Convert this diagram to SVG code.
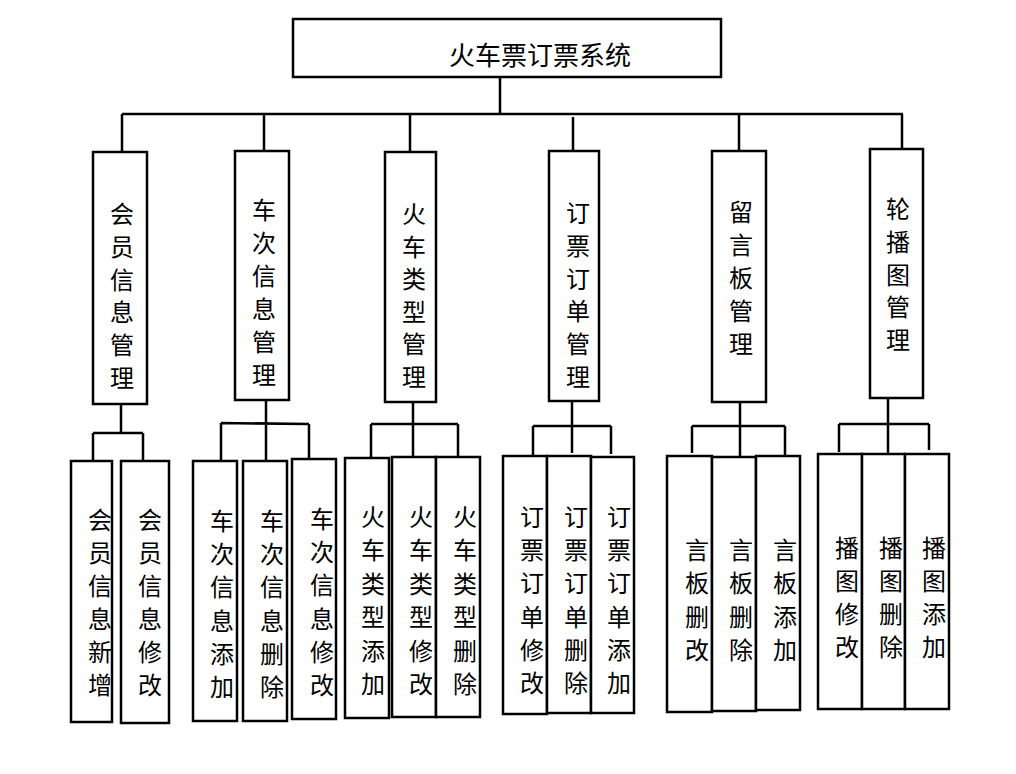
<svg xmlns="http://www.w3.org/2000/svg" width="1016" height="774" viewBox="0 0 1016 774">
<style>
.b{fill:#fff;stroke:#000;stroke-width:2.5}
.c{fill:none;stroke:#000;stroke-width:2.5}
text{font-family:"Noto Sans CJK SC","Noto Sans",sans-serif;font-size:24px;fill:#000;text-anchor:middle;dominant-baseline:central}
.t{font-size:26px}
</style>
<rect width="1016" height="774" fill="#fff"/>
<g id="connectors">
<path class="c" d="M500,78V114M122,114H903M122,114V152M264,114V151M410,114V152M573,117V151M739,114V151M902,114V149"/>
<path class="c" d="M121,404V433M93,433H143M93,433V461M143,433V461"/>
<path class="c" d="M266,400V461M221,423L309,424M221,423V461M309,424V459"/>
<path class="c" d="M413,402V457M371,424H458M371,424V457M458,424V457"/>
<path class="c" d="M572,401V453M533,426H611M533,426V455M611,426V454"/>
<path class="c" d="M740,402V456M692,426H785M692,426V453M785,426V455"/>
<path class="c" d="M888,398V453M839,424H929M839,424V452M929,424V450"/>
</g>
<g id="root"><rect class="b" x="293" y="19" width="428" height="58"/><text class="t" x="540" y="53">火车票订票系统</text></g>
<g id="n1"><rect class="b" x="93" y="152" width="54" height="252"/><text x="122"><tspan x="122" y="212">会</tspan><tspan x="122" y="245">员</tspan><tspan x="122" y="278">信</tspan><tspan x="122" y="310">息</tspan><tspan x="122" y="343">管</tspan><tspan x="122" y="376">理</tspan></text></g>
<g id="n2"><rect class="b" x="235" y="151" width="54" height="249"/><text x="264"><tspan x="264" y="208">车</tspan><tspan x="264" y="241">次</tspan><tspan x="264" y="274">信</tspan><tspan x="264" y="307">息</tspan><tspan x="264" y="340">管</tspan><tspan x="264" y="373">理</tspan></text></g>
<g id="n3"><rect class="b" x="385" y="152" width="51" height="250"/><text x="414"><tspan x="414" y="212">火</tspan><tspan x="414" y="245">车</tspan><tspan x="414" y="277">类</tspan><tspan x="414" y="310">型</tspan><tspan x="414" y="342">管</tspan><tspan x="414" y="375">理</tspan></text></g>
<g id="n4"><rect class="b" x="549" y="151" width="50" height="250"/><text x="578"><tspan x="578" y="211">订</tspan><tspan x="578" y="244">票</tspan><tspan x="578" y="277">订</tspan><tspan x="578" y="309">单</tspan><tspan x="578" y="342">管</tspan><tspan x="578" y="375">理</tspan></text></g>
<g id="n5"><rect class="b" x="712" y="151" width="54" height="251"/><text x="741"><tspan x="741" y="210">留</tspan><tspan x="741" y="243">言</tspan><tspan x="741" y="276">板</tspan><tspan x="741" y="309">管</tspan><tspan x="741" y="342">理</tspan></text></g>
<g id="n6"><rect class="b" x="870" y="149" width="53" height="249"/><text x="898"><tspan x="898" y="207">轮</tspan><tspan x="898" y="240">播</tspan><tspan x="898" y="273">图</tspan><tspan x="898" y="305">管</tspan><tspan x="898" y="338">理</tspan></text></g>

<g id="n1a"><rect class="b" x="71" y="461" width="41" height="261"/><text><tspan x="100" y="518">会</tspan><tspan x="100" y="551">员</tspan><tspan x="100" y="584">信</tspan><tspan x="100" y="617">息</tspan><tspan x="100" y="650">新</tspan><tspan x="100" y="683">增</tspan></text></g>
<g id="n1b"><rect class="b" x="121" y="461" width="48" height="262"/><text><tspan x="150" y="518">会</tspan><tspan x="150" y="551">员</tspan><tspan x="150" y="584">信</tspan><tspan x="150" y="617">息</tspan><tspan x="150" y="650">修</tspan><tspan x="150" y="683">改</tspan></text></g>

<g id="n2a"><rect class="b" x="193" y="461" width="44" height="260"/><text><tspan x="222" y="519">车</tspan><tspan x="222" y="552">次</tspan><tspan x="222" y="585">信</tspan><tspan x="222" y="619">息</tspan><tspan x="222" y="652">添</tspan><tspan x="222" y="685">加</tspan></text></g>
<g id="n2b"><rect class="b" x="243" y="461" width="44" height="260"/><text><tspan x="272" y="519">车</tspan><tspan x="272" y="552">次</tspan><tspan x="272" y="585">信</tspan><tspan x="272" y="619">息</tspan><tspan x="272" y="652">删</tspan><tspan x="272" y="685">除</tspan></text></g>
<g id="n2c"><rect class="b" x="292" y="459" width="44" height="260"/><text><tspan x="322" y="517">车</tspan><tspan x="322" y="550">次</tspan><tspan x="322" y="583">信</tspan><tspan x="322" y="617">息</tspan><tspan x="322" y="650">修</tspan><tspan x="322" y="683">改</tspan></text></g>

<g id="n3a"><rect class="b" x="345" y="458" width="44" height="260"/><text><tspan x="373" y="515">火</tspan><tspan x="373" y="548">车</tspan><tspan x="373" y="582">类</tspan><tspan x="373" y="615">型</tspan><tspan x="373" y="649">添</tspan><tspan x="373" y="682">加</tspan></text></g>
<g id="n3b"><rect class="b" x="392" y="457" width="44" height="260"/><text><tspan x="421" y="515">火</tspan><tspan x="421" y="548">车</tspan><tspan x="421" y="582">类</tspan><tspan x="421" y="615">型</tspan><tspan x="421" y="649">修</tspan><tspan x="421" y="682">改</tspan></text></g>
<g id="n3c"><rect class="b" x="436" y="457" width="44" height="260"/><text><tspan x="465" y="515">火</tspan><tspan x="465" y="548">车</tspan><tspan x="465" y="582">类</tspan><tspan x="465" y="615">型</tspan><tspan x="465" y="649">删</tspan><tspan x="465" y="682">除</tspan></text></g>

<g id="n4a"><rect class="b" x="503" y="456" width="44" height="258"/><text><tspan x="532" y="515">订</tspan><tspan x="532" y="548">票</tspan><tspan x="532" y="581">订</tspan><tspan x="532" y="615">单</tspan><tspan x="532" y="648">修</tspan><tspan x="532" y="681">改</tspan></text></g>
<g id="n4b"><rect class="b" x="547" y="456" width="44" height="257"/><text><tspan x="576" y="515">订</tspan><tspan x="576" y="548">票</tspan><tspan x="576" y="581">订</tspan><tspan x="576" y="615">单</tspan><tspan x="576" y="648">删</tspan><tspan x="576" y="681">除</tspan></text></g>
<g id="n4c"><rect class="b" x="591" y="457" width="43" height="256"/><text><tspan x="619" y="515">订</tspan><tspan x="619" y="548">票</tspan><tspan x="619" y="581">订</tspan><tspan x="619" y="615">单</tspan><tspan x="619" y="648">添</tspan><tspan x="619" y="681">加</tspan></text></g>

<g id="n5a"><rect class="b" x="667" y="456" width="45" height="256"/><text><tspan x="697" y="548">言</tspan><tspan x="697" y="581">板</tspan><tspan x="697" y="615">删</tspan><tspan x="697" y="648">改</tspan></text></g>
<g id="n5b"><rect class="b" x="712" y="457" width="44" height="254"/><text><tspan x="741" y="548">言</tspan><tspan x="741" y="581">板</tspan><tspan x="741" y="615">删</tspan><tspan x="741" y="648">除</tspan></text></g>
<g id="n5c"><rect class="b" x="756" y="456" width="44" height="254"/><text><tspan x="785" y="548">言</tspan><tspan x="785" y="581">板</tspan><tspan x="785" y="615">添</tspan><tspan x="785" y="648">加</tspan></text></g>

<g id="n6a"><rect class="b" x="818" y="454" width="44" height="255"/><text><tspan x="847" y="546">播</tspan><tspan x="847" y="579">图</tspan><tspan x="847" y="612">修</tspan><tspan x="847" y="645">改</tspan></text></g>
<g id="n6b"><rect class="b" x="862" y="454" width="43" height="255"/><text><tspan x="891" y="546">播</tspan><tspan x="891" y="579">图</tspan><tspan x="891" y="612">删</tspan><tspan x="891" y="645">除</tspan></text></g>
<g id="n6c"><rect class="b" x="905" y="454" width="44" height="255"/><text><tspan x="934" y="546">播</tspan><tspan x="934" y="579">图</tspan><tspan x="934" y="612">添</tspan><tspan x="934" y="645">加</tspan></text></g>
</svg>
